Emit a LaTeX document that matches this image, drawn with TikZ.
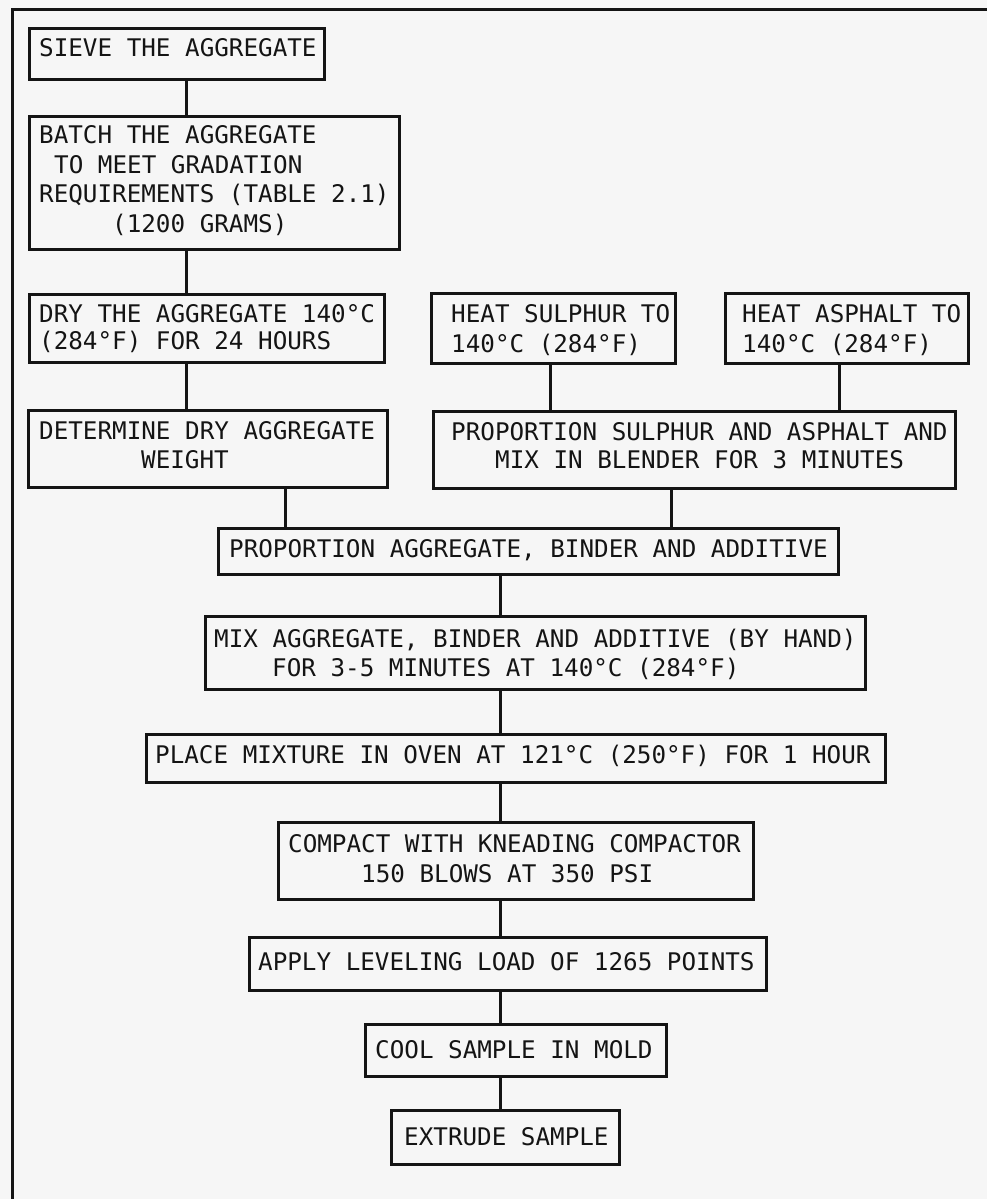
\documentclass[tikz,border=0pt]{standalone}
\usepackage{fontspec}
\newfontfamily\typew{DejaVu Sans Mono}
\definecolor{paper}{RGB}{246,246,246}
\definecolor{ink}{RGB}{20,20,20}
\begin{document}
\begin{tikzpicture}[x=1pt,y=-1pt,
  boxst/.style={draw=ink, line width=3pt, inner sep=0pt, anchor=north west},
  txt/.style={inner sep=0pt, anchor=base west, text=ink, font=\typew\fontsize{24.25}{29}\selectfont},
  link/.style={draw=ink, line width=3pt}]
\fill[paper] (0,0) rectangle (987,1199);
\useasboundingbox (0,0) rectangle (987,1199);
% frame (top and left edges visible)
\coordinate (frTL) at (12,10);
\coordinate (frTR) at (990,10);
\coordinate (frBL) at (12,1202);
\draw[link] (frTR) -- (frTL) -- (frBL);
% boxes
\newcommand\mkbox[5]{\node[boxst, minimum width=#4-#2, minimum height=#5-#3] (#1) at (#2,#3) {};}
\mkbox{sieve}{28}{27}{323}{78}
\mkbox{batch}{28}{115}{398}{248}
\mkbox{dry}{28}{293}{383}{361}
\mkbox{heats}{430}{292}{674}{362}
\mkbox{heata}{724}{292}{967}{362}
\mkbox{determ}{27}{409}{386}{486}
\mkbox{props}{432}{410}{954}{487}
\mkbox{propa}{217}{527}{837}{573}
\mkbox{mix}{204}{615}{864}{688}
\mkbox{place}{145}{733}{884}{781}
\mkbox{compact}{277}{821}{752}{898}
\mkbox{apply}{248}{936}{765}{989}
\mkbox{cool}{364}{1023}{665}{1075}
\mkbox{extrude}{390}{1109}{618}{1163}
% texts
\node[txt] (t1) at (39,57) {SIEVE THE AGGREGATE};
\node[txt] (t2a) at (39,143) {BATCH THE AGGREGATE};
\node[txt] (t2b) at (54,173) {TO MEET GRADATION};
\node[txt] (t2c) at (39,202) {REQUIREMENTS (TABLE 2.1)};
\node[txt] (t2d) at (112,232) {(1200 GRAMS)};
\node[txt] (t3a) at (39,322) {DRY THE AGGREGATE 140°C};
\node[txt] (t3b) at (39,349) {(284°F) FOR 24 HOURS};
\node[txt] (t4a) at (451,322) {HEAT SULPHUR TO};
\node[txt] (t4b) at (451,352) {140°C (284°F)};
\node[txt] (t5a) at (742,322) {HEAT ASPHALT TO};
\node[txt] (t5b) at (742,352) {140°C (284°F)};
\node[txt] (t6a) at (39,439) {DETERMINE DRY AGGREGATE};
\node[txt] (t6b) at (141,468) {WEIGHT};
\node[txt] (t7a) at (451,440) {PROPORTION SULPHUR AND ASPHALT AND};
\node[txt] (t7b) at (495,468) {MIX IN BLENDER FOR 3 MINUTES};
\node[txt] (t8) at (229,557) {PROPORTION AGGREGATE, BINDER AND ADDITIVE};
\node[txt] (t9a) at (214,647) {MIX AGGREGATE, BINDER AND ADDITIVE (BY HAND)};
\node[txt] (t9b) at (272,676) {FOR 3-5 MINUTES AT 140°C (284°F)};
\node[txt] (t10) at (155,763) {PLACE MIXTURE IN OVEN AT 121°C (250°F) FOR 1 HOUR};
\node[txt] (t11a) at (288,852) {COMPACT WITH KNEADING COMPACTOR};
\node[txt] (t11b) at (361,882) {150 BLOWS AT 350 PSI};
\node[txt] (t12) at (258,970) {APPLY LEVELING LOAD OF 1265 POINTS};
\node[txt] (t13) at (375,1058) {COOL SAMPLE IN MOLD};
\node[txt] (t14) at (404,1145) {EXTRUDE SAMPLE};
% connector columns
\coordinate (cA) at (186,0);
\coordinate (cB) at (550,0);
\coordinate (cC) at (839,0);
\coordinate (cD) at (285,0);
\coordinate (cE) at (671,0);
\coordinate (cF) at (500,0);
\draw[link] (sieve.south -| cA) -- (batch.north -| cA);
\draw[link] (batch.south -| cA) -- (dry.north -| cA);
\draw[link] (dry.south -| cA) -- (determ.north -| cA);
\draw[link] (heats.south -| cB) -- (props.north -| cB);
\draw[link] (heata.south -| cC) -- (props.north -| cC);
\draw[link] (determ.south -| cD) -- (propa.north -| cD);
\draw[link] (props.south -| cE) -- (propa.north -| cE);
\draw[link] (propa.south -| cF) -- (mix.north -| cF);
\draw[link] (mix.south -| cF) -- (place.north -| cF);
\draw[link] (place.south -| cF) -- (compact.north -| cF);
\draw[link] (compact.south -| cF) -- (apply.north -| cF);
\draw[link] (apply.south -| cF) -- (cool.north -| cF);
\draw[link] (cool.south -| cF) -- (extrude.north -| cF);
\end{tikzpicture}
\end{document}
